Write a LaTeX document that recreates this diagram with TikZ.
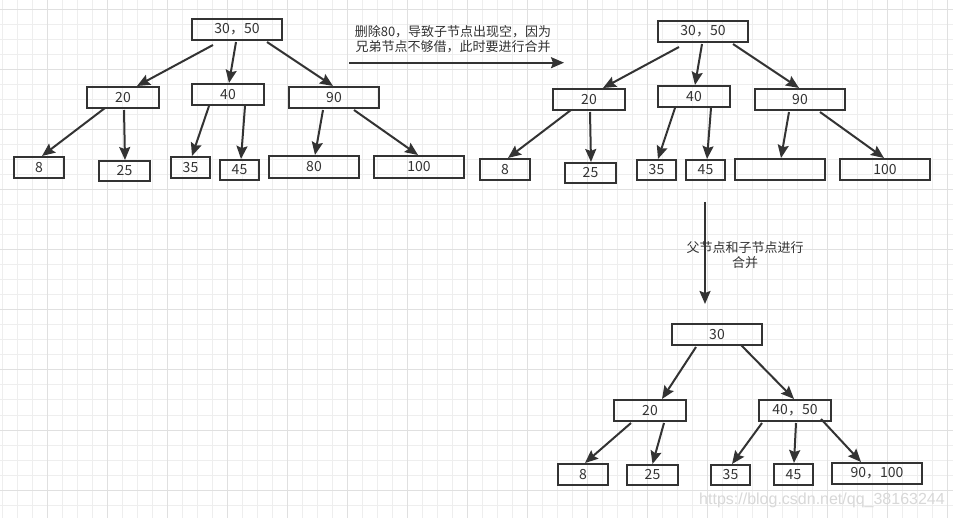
\documentclass[tikz,border=0pt]{standalone}
\usepackage{fontspec}
\newfontfamily\cjk{Noto Sans CJK SC}
\newfontfamily\wmfont{Liberation Sans}
\usetikzlibrary{arrows.meta}
\definecolor{ink}{HTML}{333333}
\definecolor{gridminor}{HTML}{EEEEEE}
\definecolor{gridmajor}{HTML}{E0E0E0}
\definecolor{wmgray}{HTML}{D8D8D8}
\begin{document}
\begin{tikzpicture}[x=1pt,y=-1pt,
  keybox/.style={draw=ink, line width=2pt, inner sep=0pt, minimum height=21pt,
    text=ink, font=\cjk\fontsize{14}{15}\selectfont},
  link/.style={draw=ink, line width=2pt, -{Stealth[length=13pt,width=11pt,inset=2pt]}},
  note/.style={text=ink, align=center, font=\cjk\fontsize{13}{15}\selectfont},
  minorline/.style={draw=gridminor, line width=1pt},
  majorline/.style={draw=gridmajor, line width=1pt}]
\useasboundingbox (0,0) rectangle (953,518);
\fill[white] (0,0) rectangle (953,518);
% grid
\foreach \i in {0,...,63} \draw[minorline] (2.3+15*\i,0) -- (2.3+15*\i,518);
\foreach \j in {0,...,34} \draw[minorline] (0,10+15*\j) -- (953,10+15*\j);
\foreach \i in {0,...,15} \draw[majorline] (47.3+60*\i,0) -- (47.3+60*\i,518);
\foreach \j in {0,...,8} \draw[majorline] (0,10+60*\j) -- (953,10+60*\j);

% ---------- left tree ----------
\node[keybox, minimum width=90pt] (A1) at (237,29.5) {30，50};
\node[keybox, minimum width=72pt] (B1) at (123,97.5) {20};
\node[keybox, minimum width=72pt] (C1) at (228,94.5) {40};
\node[keybox, minimum width=90pt] (D1) at (334,97.5) {90};
\node[keybox, minimum width=50pt] (E1) at (39,167.5) {8};
\node[keybox, minimum width=51pt, minimum height=20pt] (F1) at (124.5,171) {25};
\node[keybox, minimum width=39pt] (G1) at (190.5,167.5) {35};
\node[keybox, minimum width=39pt, minimum height=20pt] (H1) at (239.5,170) {45};
\node[keybox, minimum width=90pt, minimum height=22pt] (I1) at (314,167) {80};
\node[keybox, minimum width=90pt, minimum height=22pt] (J1) at (419,167) {100};

\draw[link] ([xshift=-24pt,yshift=-4pt]A1.south) -- ([xshift=14pt]B1.north);
\draw[link] ([xshift=-1pt,yshift=-1pt]A1.south) -- ([xshift=1pt]C1.north);
\draw[link] ([xshift=30pt,yshift=-1pt]A1.south) -- ([xshift=-1pt]D1.north);
\draw[link] ([xshift=-18pt,yshift=1pt]B1.south) -- ([xshift=3pt]E1.north);
\draw[link] ([xshift=1pt,yshift=-1pt]B1.south) -- ([xshift=0.5pt]F1.north);
\draw[link] ([xshift=-19pt]C1.south) -- ([xshift=1.5pt]G1.north);
\draw[link] ([xshift=17pt]C1.south) -- ([xshift=1.5pt]H1.north);
\draw[link] ([xshift=-11pt,yshift=-1pt]D1.south) -- ([xshift=1pt]I1.north);
\draw[link] ([xshift=20pt,yshift=-1pt]D1.south) -- ([xshift=-1pt]J1.north);

% ---------- middle arrow ----------
\coordinate (h1) at (349,62.7);
\coordinate (h2) at (564,62.7);
\draw[link] (h1) -- (h2);
\node[note] (t1) at (453,39.2) {删除80，导致子节点出现空，因为\\兄弟节点不够借，此时要进行合并};

% ---------- right tree ----------
\node[keybox, minimum width=90pt] (A2) at (703,31.5) {30，50};
\node[keybox, minimum width=72pt] (B2) at (589,99.5) {20};
\node[keybox, minimum width=72pt] (C2) at (694,96.5) {40};
\node[keybox, minimum width=90pt] (D2) at (800,99.5) {90};
\node[keybox, minimum width=50pt] (E2) at (505,169.5) {8};
\node[keybox, minimum width=51pt, minimum height=20pt] (F2) at (590.5,173) {25};
\node[keybox, minimum width=39pt, minimum height=20pt] (G2) at (656.5,170) {35};
\node[keybox, minimum width=39pt, minimum height=20pt] (H2) at (705.5,170) {45};
\node[keybox, minimum width=90pt] (I2) at (780,169.5) {};
\node[keybox, minimum width=90pt] (J2) at (885,169.5) {100};

\draw[link] ([xshift=-24pt,yshift=-4pt]A2.south) -- ([xshift=14pt]B2.north);
\draw[link] ([xshift=-1pt,yshift=-1pt]A2.south) -- ([xshift=1pt]C2.north);
\draw[link] ([xshift=30pt,yshift=-1pt]A2.south) -- ([xshift=-1pt]D2.north);
\draw[link] ([xshift=-18pt,yshift=1pt]B2.south) -- ([xshift=3pt]E2.north);
\draw[link] ([xshift=1pt,yshift=-1pt]B2.south) -- ([xshift=0.5pt]F2.north);
\draw[link] ([xshift=-19pt]C2.south) -- ([xshift=1.5pt]G2.north);
\draw[link] ([xshift=17pt]C2.south) -- ([xshift=1.5pt]H2.north);
\draw[link] ([xshift=-11pt,yshift=-1pt]D2.south) -- ([xshift=1pt]I2.north);
\draw[link] ([xshift=20pt,yshift=-1pt]D2.south) -- ([xshift=-1pt]J2.north);

% ---------- vertical arrow ----------
\coordinate (v1) at (705,202);
\coordinate (v2) at (705,304);
\draw[link] (v1) -- (v2);
\node[note] (t2) at (745,255) {父节点和子节点进行\\合并};

% ---------- bottom tree ----------
\node[keybox, minimum width=90pt] (R) at (717,334.5) {30};
\node[keybox, minimum width=72pt] (S) at (650,410.5) {20};
\node[keybox, minimum width=72pt] (T) at (795,410.5) {40，50};
\node[keybox, minimum width=50pt] (U) at (583,474.5) {8};
\node[keybox, minimum width=51pt, minimum height=20pt] (V) at (652.5,475) {25};
\node[keybox, minimum width=39pt, minimum height=20pt] (W) at (730.5,475) {35};
\node[keybox, minimum width=39pt] (X) at (793.5,474.5) {45};
\node[keybox, minimum width=90pt] (Y) at (877,473.5) {90，100};

\draw[link] ([xshift=-21pt,yshift=-1pt]R.south) -- ([xshift=12pt]S.north);
\draw[link] ([xshift=24pt,yshift=1pt]R.south) -- ([xshift=-1pt]T.north);
\draw[link] ([xshift=-19pt,yshift=-1pt]S.south) -- ([xshift=2pt]U.north);
\draw[link] ([xshift=14pt,yshift=-1pt]S.south) -- ([xshift=0pt]V.north);
\draw[link] ([xshift=-33pt,yshift=-1pt]T.south) -- ([xshift=1.5pt]W.north);
\draw[link] ([xshift=1pt,yshift=-1pt]T.south) -- ([xshift=0.5pt]X.north);
\draw[link] ([xshift=26pt,yshift=3pt]T.south) -- ([xshift=-16pt]Y.north);

% watermark
\node[text=wmgray, font=\wmfont\fontsize{16}{16}\selectfont] (wm) at (822,500) {https://blog.csdn.net/qq\_38163244};
\end{tikzpicture}
\end{document}
